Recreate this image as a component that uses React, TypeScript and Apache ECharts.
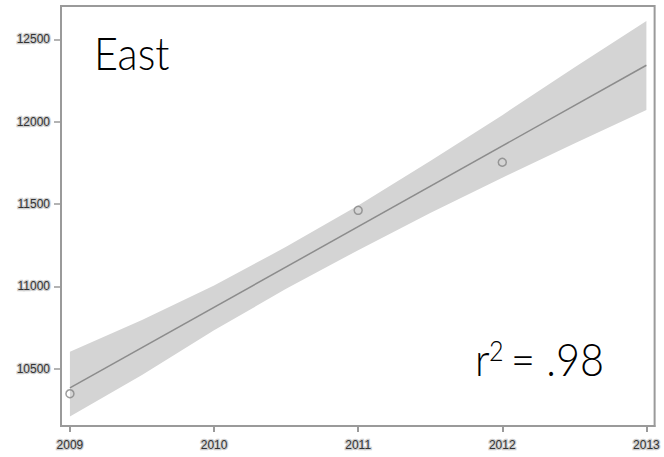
import React, { useEffect, useRef } from "react";
import * as echarts from "echarts";

// Observed values per year
const years = [2009, 2011, 2012];
const observed = [10348, 11462, 11754];

// Fitted regression line end points
const fitYears = [2009, 2013];
const fitValues = [10383, 12343];

// Confidence band edges, sampled every half year
const bandYears = [2009, 2009.5, 2010, 2010.5, 2011, 2011.5, 2012, 2012.5, 2013];
const bandUpper = [10603, 10796, 11005, 11240, 11492, 11762, 12040, 12330, 12612];
const bandLower = [10210, 10462, 10733, 10985, 11220, 11445, 11660, 11868, 12072];

// Axis ticks
const xTicks = [2009, 2010, 2011, 2012, 2013];
const yTicks = [10500, 11000, 11500, 12000, 12500];

const regionName = "East";
const rSquared = ".98";

const GRAY = "#9a9a9a";
const BIG_FONT = "300 46px Lato, 'Open Sans', sans-serif";

export default function App() {
  const ref = useRef<HTMLDivElement>(null);

  useEffect(() => {
    if (!ref.current) return;
    const chart = echarts.init(ref.current, undefined, { renderer: "svg" });

    const tickLabel = {
      color: "#333333",
      fontFamily: "Liberation Sans, Arial, sans-serif",
      fontSize: 12,
      textBorderColor: "#cfcfcf",
      textBorderWidth: 2.5,
    };

    chart.setOption({
      animation: false,
      grid: {
        left: 61,
        right: 5,
        top: 6,
        bottom: 31,
        show: true,
        borderColor: GRAY,
        borderWidth: 2,
        backgroundColor: "#ffffff",
      },
      xAxis: {
        type: "value",
        min: 2008.938,
        max: 2013.057,
        splitLine: { show: false },
        axisLine: { show: true, lineStyle: { color: GRAY, width: 2 } },
        axisTick: {
          show: true,
          length: 6,
          customValues: xTicks,
          lineStyle: { color: GRAY, width: 2 },
        },
        axisLabel: {
          ...tickLabel,
          margin: 13,
          customValues: xTicks,
          formatter: (v: number) => String(v),
        },
      },
      yAxis: {
        type: "value",
        min: 10152,
        max: 12703,
        splitLine: { show: false },
        axisLine: { show: true, lineStyle: { color: GRAY, width: 2 } },
        axisTick: {
          show: true,
          length: 7,
          customValues: yTicks,
          lineStyle: { color: GRAY, width: 1.5 },
        },
        axisLabel: {
          ...tickLabel,
          margin: 11,
          customValues: yTicks,
          formatter: (v: number) => String(v),
        },
      },
      series: [
        {
          type: "custom",
          z: 1,
          silent: true,
          data: [[bandYears[0], bandLower[0]]],
          renderItem: (_params: any, api: any) => {
            const top = bandYears.map((x, i) => api.coord([x, bandUpper[i]]));
            const bottom = bandYears
              .map((x, i) => api.coord([x, bandLower[i]]))
              .reverse();
            return {
              type: "polygon",
              shape: { points: top.concat(bottom) },
              style: { fill: "#d4d4d4", stroke: "none" },
            };
          },
        },
        {
          type: "line",
          z: 2,
          data: fitYears.map((x, i) => [x, fitValues[i]]),
          showSymbol: false,
          lineStyle: { color: "#8c8c8c", width: 1.5 },
        },
        {
          type: "scatter",
          z: 3,
          data: years.map((x, i) => [x, observed[i]]),
          symbol: "circle",
          symbolSize: 8,
          itemStyle: {
            color: "rgba(255,255,255,0)",
            borderColor: "#858585",
            borderWidth: 1.5,
          },
        },
      ],
      graphic: [
        {
          type: "text",
          left: 94,
          top: 29,
          scaleX: 0.9,
          style: { text: regionName, fill: "#000000", font: BIG_FONT },
        },
        {
          type: "text",
          left: 475,
          top: 335,
          scaleX: 0.9,
          style: { text: "r", fill: "#000000", font: BIG_FONT },
        },
        {
          type: "text",
          left: 489,
          top: 336,
          scaleX: 0.9,
          style: {
            text: "2",
            fill: "#000000",
            font: "300 28px Lato, 'Open Sans', sans-serif",
          },
        },
        {
          type: "text",
          left: 511,
          top: 335,
          scaleX: 0.9,
          style: { text: "= " + rSquared, fill: "#000000", font: BIG_FONT },
        },
      ],
    });

    return () => chart.dispose();
  }, []);

  return (
    <div
      ref={ref}
      style={{ position: "absolute", left: 0, top: 0, width: 664, height: 457 }}
    />
  );
}
